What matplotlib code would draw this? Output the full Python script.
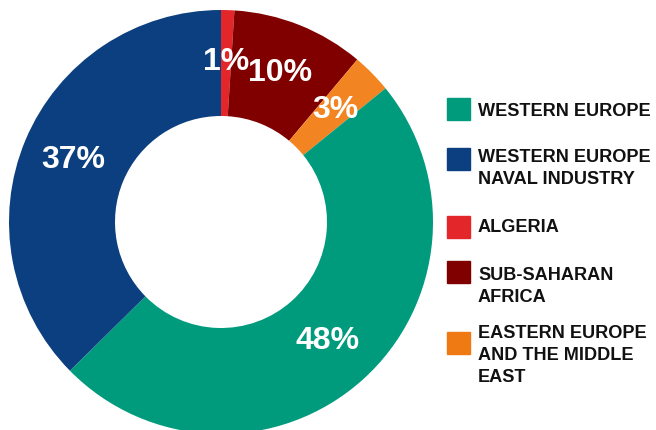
import matplotlib
matplotlib.use("Agg")
import matplotlib.pyplot as plt
from matplotlib.patches import Rectangle

categories = ["ALGERIA", "SUB-SAHARAN\nAFRICA", "EASTERN EUROPE\nAND THE MIDDLE\nEAST",
              "WESTERN EUROPE", "WESTERN EUROPE\nNAVAL INDUSTRY"]
values = [1, 10, 3, 48, 37]
colors = ["#E3262A", "#800000", "#F28522", "#009B7D", "#0B3F7F"]
legend_order = [3, 4, 0, 1, 2]
legend_colors = ["#009B7D", "#0B3F7F", "#E3262A", "#800000", "#EF7A14"]

plt.rcParams['font.family'] = ['Liberation Sans', 'DejaVu Sans']

W, H = 656, 430
fig = plt.figure(figsize=(W / 100, H / 100), dpi=100)
cx, cy, r = 221, 222, 212
ax = fig.add_axes([(cx - r) / W, (H - cy - r) / H, 2 * r / W, 2 * r / H])
wedges, texts, autotexts = ax.pie(
    values, colors=colors, startangle=90, counterclock=False,
    radius=1.0, wedgeprops=dict(width=0.5, linewidth=0),
    autopct=lambda p: f"{round(p * sum(values) / 100):d}%", pctdistance=0.755,
    textprops=dict(color="white", fontsize=23, fontweight="bold"))
ax.set_xlim(-1, 1)
ax.set_ylim(-1, 1)
ax.set_aspect("equal")
ax.axis("off")

# legend drawn manually
sq_y = [109, 159, 227, 272, 343]
txt_y = [111, 157, 227, 275, 333]
for k, idx in enumerate(legend_order):
    y = sq_y[k]
    fig.patches.append(Rectangle((447 / W, (H - y - 11) / H), 23 / W, 22 / H,
                                 transform=fig.transFigure, color=legend_colors[k]))
    lines = categories[idx].split("\n")
    for j, line in enumerate(lines):
        fig.text(478 / W, (H - (txt_y[k] + 22.5 * j)) / H, line, ha="left", va="center",
                 fontsize=13.1, fontweight="bold", color="#111111")

fig.savefig("out.png", dpi=100)
